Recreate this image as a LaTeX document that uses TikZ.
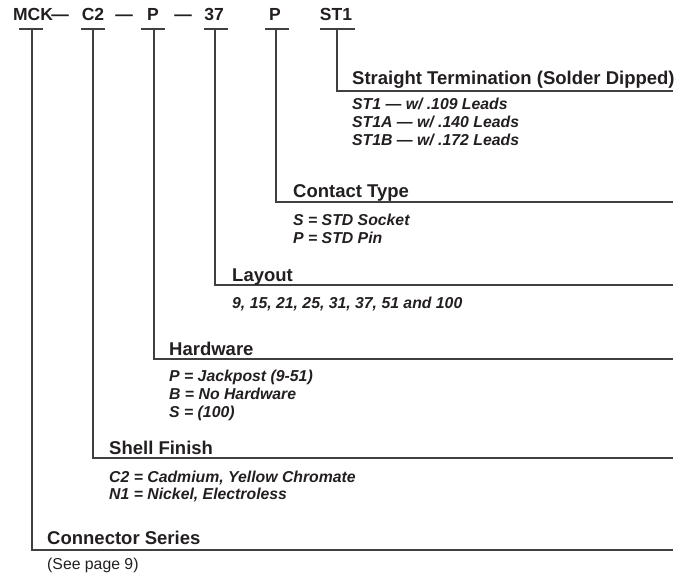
\documentclass[tikz,border=0pt]{standalone}
\usepackage{fontspec}
\setmainfont{Liberation Sans}
\definecolor{ink}{HTML}{231F20}
\definecolor{rule}{HTML}{404040}
\begin{document}
\begin{tikzpicture}[x=1pt,y=-1pt,
  code/.style={font=\fontsize{17.5}{20}\selectfont\bfseries, text=ink, inner sep=0pt, anchor=base},
  head/.style={font=\fontsize{18.5}{21}\selectfont\bfseries, text=ink, inner sep=0pt, anchor=base west},
  item/.style={font=\fontsize{15.8}{18}\selectfont\bfseries\itshape, text=ink, inner sep=0pt, anchor=base west},
  note/.style={font=\fontsize{15.8}{18}\selectfont, text=ink, inner sep=0pt, anchor=base west},
  wire/.style={draw=rule, line width=1.2pt},
]
\useasboundingbox (0,0) rectangle (676,576);
% top code row
\node[code] (mck) at (33,20) {MCK};
\node[code] (d1) at (60,20) {—};
\node[code] (c2) at (93,20) {C2};
\node[code] (d2) at (124,20) {—};
\node[code] (hw) at (153,20) {P};
\node[code] (d3) at (183,20) {—};
\node[code] (lay) at (214,20) {37};
\node[code] (ct) at (275,20) {P};
\node[code] (st) at (336,20) {ST1};
% underlines
\foreach \n/\a/\b in {mck/19/43, c2/81/105, hw/141/165, lay/204/228, ct/265/289, st/320/355}{
  \coordinate (\n-ua) at (\a,29);
  \coordinate (\n-ub) at (\b,29);
  \draw[wire] (\n-ua) -- (\n-ub);
}
% branch coordinates: x of drop, y of rule
\foreach \n/\x/\y in {st/337/91, ct/276/202, lay/215/285, hw/154/359, c2/93/458, mck/32/550}{
  \coordinate (\n-top) at (\x,29);
  \coordinate (\n-corner) at (\x,\y);
  \coordinate (\n-end) at (673,\y);
  \draw[wire] (\n-top) -- (\n-corner) -- (\n-end);
}
% Straight termination
\node[head] (h-st) at (352,84) {Straight Termination (Solder Dipped)};
\node[item] (st-1) at (352,109) {ST1 — w/ .109 Leads};
\node[item] (st-2) at (352,127) {ST1A — w/ .140 Leads};
\node[item] (st-3) at (352,145) {ST1B — w/ .172 Leads};
% Contact type
\node[head] (h-ct) at (293,197) {Contact Type};
\node[item] (ct-1) at (293,225) {S = STD Socket};
\node[item] (ct-2) at (293,243) {P = STD Pin};
% Layout
\node[head] (h-lay) at (232,281) {Layout};
\node[item] (lay-1) at (232,308) {9, 15, 21, 25, 31, 37, 51 and 100};
% Hardware
\node[head] (h-hw) at (169,355) {Hardware};
\node[item] (hw-1) at (169,381) {P = Jackpost (9-51)};
\node[item] (hw-2) at (169,399) {B = No Hardware};
\node[item] (hw-3) at (169,417) {S = (100)};
% Shell finish
\node[head] (h-c2) at (109,454) {Shell Finish};
\node[item] (c2-1) at (109,482) {C2 = Cadmium, Yellow Chromate};
\node[item] (c2-2) at (109,499) {N1 = Nickel, Electroless};
% Connector series
\node[head] (h-mck) at (47,544) {Connector Series};
\node[note] (mck-1) at (47,569) {(See page 9)};
\end{tikzpicture}
\end{document}
